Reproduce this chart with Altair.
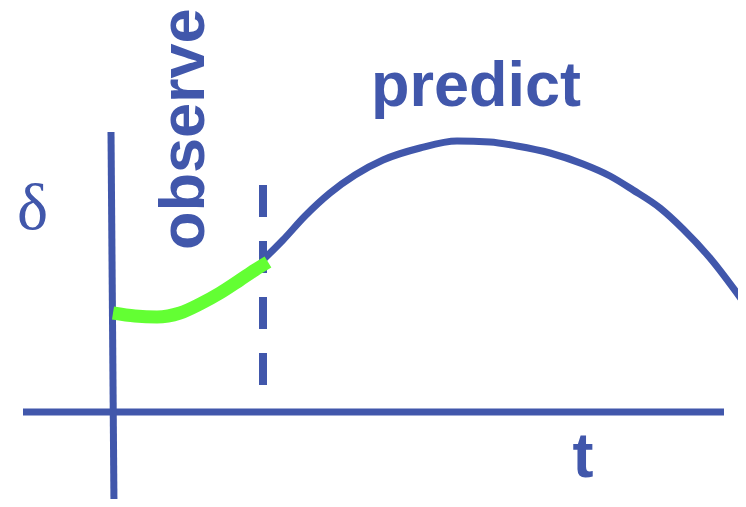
import altair as alt
import pandas as pd

# Page coordinate system of the diagram (x to the right, y downward);
# the page keeps an 8px margin, so the drawing area spans 8..738 x 8..499
W, H = 730, 491
X_DOMAIN = [8, 8 + W]
Y_DOMAIN = [8, 8 + H]

BLUE = "#4157AB"
GREEN = "#63FF33"

# Axes of the sketch
y_axis_x = [111, 114]
y_axis_y = [132, 507]
x_axis_x = [23, 724]
x_axis_y = [412, 412]

# Observed part (green)
green_x = [113, 135, 157, 180, 200, 220, 240, 255, 268]
green_y = [313, 316, 317, 313, 304, 293, 280, 270, 262]

# Predicted part (blue)
blue_x = [263, 283, 305, 330, 355, 383, 420, 457, 490, 517, 550, 583, 610, 633, 660, 683, 710, 742]
blue_y = [260, 240, 216, 193, 175, 160, 148, 141, 142, 146, 153, 164, 176, 190, 208, 229, 258, 300]

# Dashed boundary
dash_x = [263]
dash_y1 = [185]
dash_y2 = [386]

# Labels
labels = ["predict", "observe", "δ", "t"]
label_x = [371, 204, 17, 583]
label_y = [106, 250, 229, 477]

xs = alt.Scale(domain=X_DOMAIN, range=[0, W], nice=False, zero=False)
ys = alt.Scale(domain=Y_DOMAIN, range=[0, H], nice=False, zero=False)

def line_layer(xv, yv, color, width, interp="linear"):
    df = pd.DataFrame({"x": xv, "y": yv, "o": list(range(len(xv)))})
    return alt.Chart(df).mark_line(
        color=color, strokeWidth=width, strokeCap="butt", interpolate=interp
    ).encode(
        x=alt.X("x:Q", scale=xs, axis=None),
        y=alt.Y("y:Q", scale=ys, axis=None),
        order="o:Q",
    )

yaxis = line_layer(y_axis_x, y_axis_y, BLUE, 7)
xaxis = line_layer(x_axis_x, x_axis_y, BLUE, 7)
green = line_layer(green_x, green_y, GREEN, 13, "monotone")
blue = line_layer(blue_x, blue_y, BLUE, 7, "monotone")

dash_df = pd.DataFrame({"x": dash_x, "y": dash_y1, "y2": dash_y2})
dash = alt.Chart(dash_df).mark_rule(
    color=BLUE, strokeWidth=8, strokeDash=[32, 24], strokeCap="butt"
).encode(
    x=alt.X("x:Q", scale=xs, axis=None),
    y=alt.Y("y:Q", scale=ys, axis=None),
    y2="y2:Q",
)

lab_df = pd.DataFrame({"label": labels, "x": label_x, "y": label_y})

def text_layer(i, **kw):
    return alt.Chart(lab_df.iloc[[i]]).mark_text(color=BLUE, baseline="alphabetic", **kw).encode(
        x=alt.X("x:Q", scale=xs, axis=None),
        y=alt.Y("y:Q", scale=ys, axis=None),
        text="label:N",
    )

t_predict = text_layer(0, align="left", font="Liberation Sans", fontWeight="bold", fontSize=63)
t_observe = text_layer(1, align="left", angle=270, font="Liberation Sans", fontWeight="bold", fontSize=63)
t_delta = text_layer(2, align="left", font="Liberation Serif", fontSize=66)
t_t = text_layer(3, align="center", font="Liberation Sans", fontWeight="bold", fontSize=63)

chart = alt.layer(
    xaxis, yaxis, dash, blue, green, t_predict, t_observe, t_delta, t_t
).properties(
    width=W, height=H, padding=0, autosize=alt.AutoSizeParams(type="none"), background="white"
).configure_view(stroke=None)

chart.save("out.html", embed_options={"renderer": "svg", "actions": False})
